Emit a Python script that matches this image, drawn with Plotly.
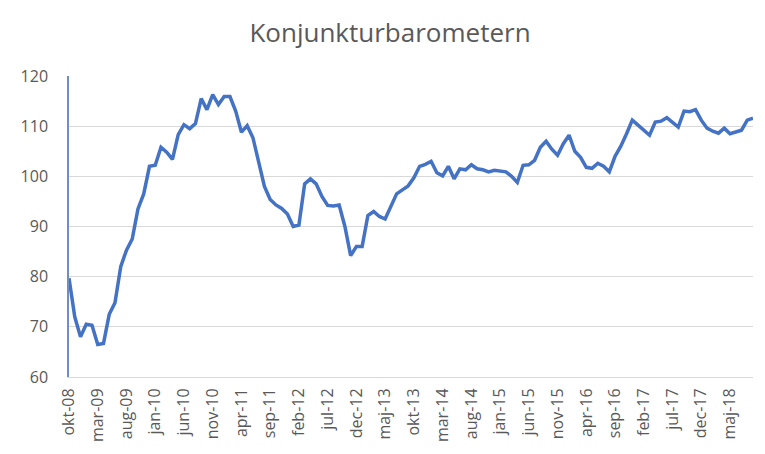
import plotly.graph_objects as go

# Swedish month abbreviations and period (okt-08 .. sep-18)
month_names = ["jan", "feb", "mar", "apr", "maj", "jun",
               "jul", "aug", "sep", "okt", "nov", "dec"]
start_year, start_month, n_months = 2008, 10, 120

months = []
for k in range(n_months):
    m = (start_month - 1 + k) % 12
    y = start_year + (start_month - 1 + k) // 12
    months.append(f"{month_names[m]}-{y % 100:02d}")

values = [
    79.7, 72.0, 68.0, 70.5, 70.3, 66.5, 66.7, 72.5, 74.8, 82.0,
    85.3, 87.5, 93.5, 96.5, 102.0, 102.2, 105.8, 104.8, 103.4, 108.3,
    110.3, 109.5, 110.5, 115.5, 113.3, 116.3, 114.3, 115.9, 115.9, 113.0,
    108.8, 110.1, 107.7, 102.5, 98.0, 95.4, 94.3, 93.6, 92.5, 90.0,
    90.3, 98.5, 99.5, 98.5, 96.0, 94.2, 94.1, 94.3, 90.0, 84.2,
    86.0, 86.0, 92.2, 93.0, 92.0, 91.5, 94.0, 96.5, 97.3, 98.1,
    99.7, 102.0, 102.4, 103.0, 100.7, 100.1, 102.0, 99.5, 101.5, 101.3,
    102.3, 101.5, 101.3, 100.9, 101.2, 101.0, 100.9, 100.0, 98.8, 102.2,
    102.3, 103.2, 105.8, 107.0, 105.4, 104.2, 106.5, 108.2, 105.0, 103.8,
    101.8, 101.6, 102.6, 102.0, 100.9, 104.0, 106.0, 108.5, 111.2, 110.2,
    109.2, 108.2, 110.8, 111.0, 111.7, 110.8, 109.8, 113.0, 112.9, 113.3,
    111.2, 109.6, 109.0, 108.6, 109.6, 108.5, 108.8, 109.2, 111.2, 111.6,
]

tick_labels = months[::5]
y_ticks = [60, 70, 80, 90, 100, 110, 120]

title_text = "Konjunkturbarometern"

fig = go.Figure()
fig.add_trace(go.Scatter(
    x=months, y=values, mode="lines",
    line=dict(color="#4472C4", width=3.5),
    hoverinfo="x+y",
))

font_family = "Open Sans, Noto Sans, sans-serif"

# page body adds an 8px margin, so the figure is drawn 8px smaller
W, H = 757, 446
fig.update_layout(
    width=W, height=H,
    margin=dict(l=61, r=12, t=68, b=77, autoexpand=False),
    paper_bgcolor="white", plot_bgcolor="white",
    showlegend=False,
    title=dict(text=title_text, x=382/W, xanchor="center", xref="container",
               y=1 - 25/H, yanchor="middle", yref="container",
               font=dict(family=font_family, size=26, color="#595959")),
    font=dict(family=font_family, color="#595959"),
)

fig.update_xaxes(
    type="category", categoryorder="array", categoryarray=months,
    range=[0, n_months - 1], automargin=False,
    tickmode="array", tickvals=tick_labels, ticktext=tick_labels,
    tickangle=-90, tickfont=dict(size=16, color="#595959"),
    showgrid=False, showline=True, linecolor="#d9d9d9", linewidth=1,
    ticks="", ticklabelstandoff=4, zeroline=False,
)
fig.update_yaxes(
    range=[60, 120], tickmode="array", tickvals=y_ticks, automargin=False,
    tickfont=dict(size=16, color="#595959"),
    showgrid=True, gridcolor="#d9d9d9", gridwidth=1,
    showline=True, linecolor="#6f8fc4", linewidth=1.5,
    ticks="", ticklabelstandoff=16, zeroline=False,
)

fig.write_html("out.html")
